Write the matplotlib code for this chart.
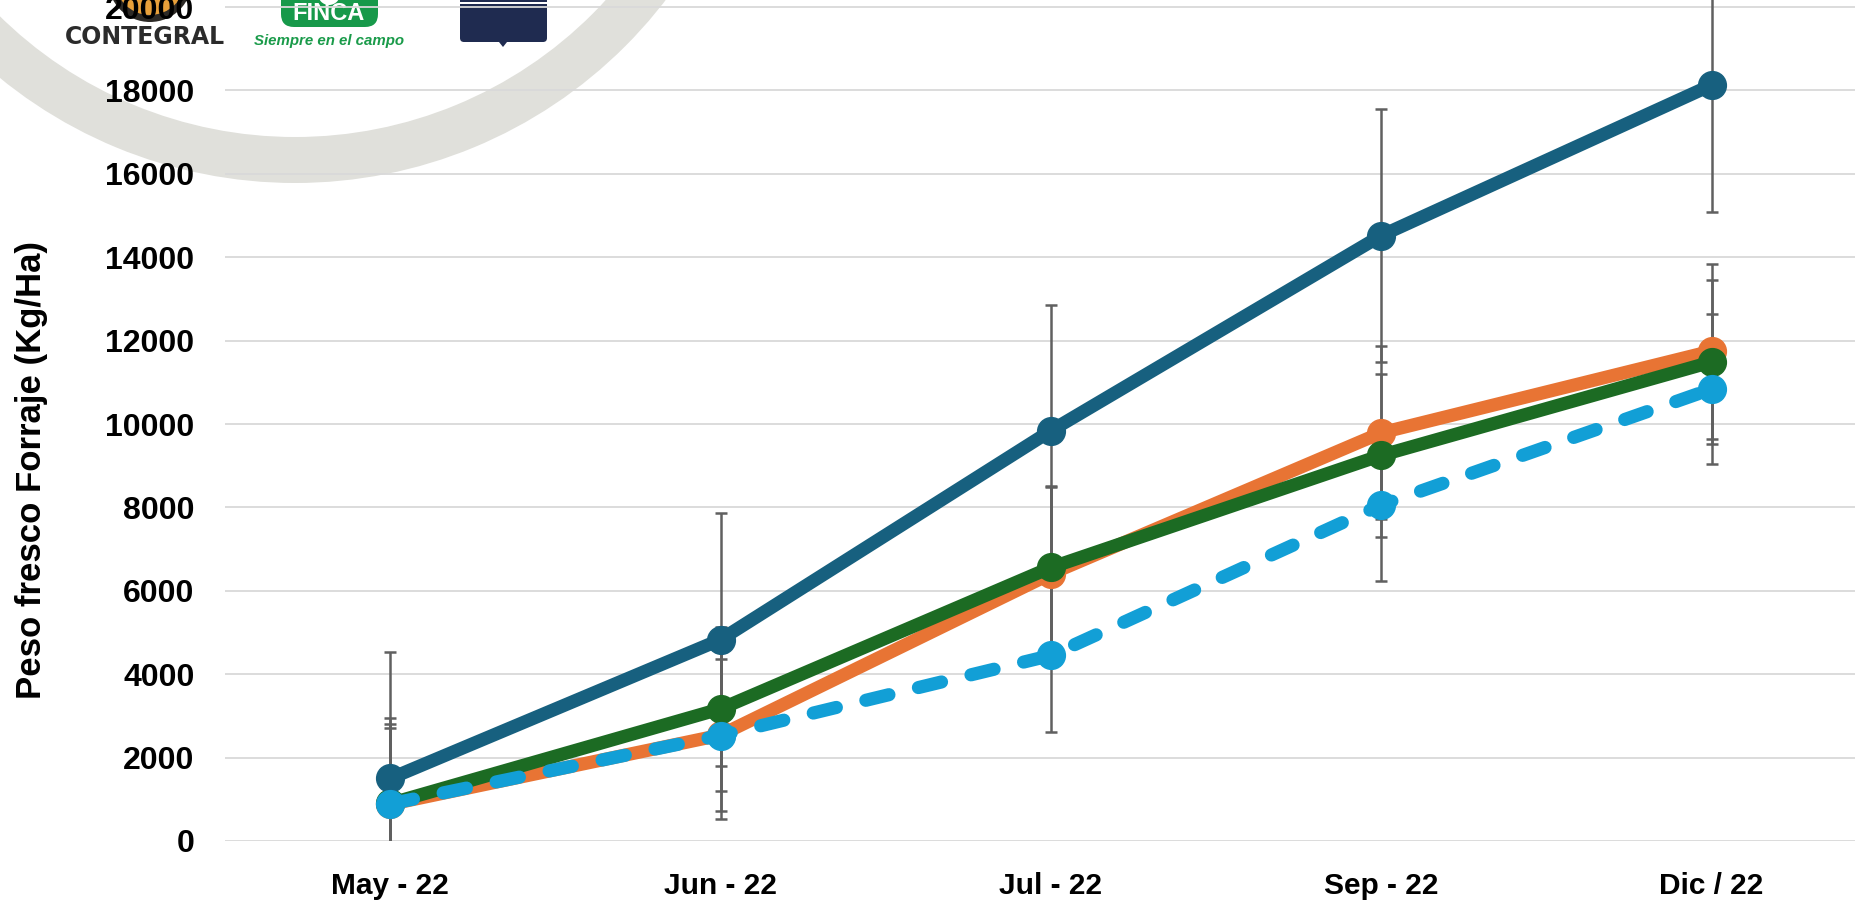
import matplotlib.pyplot as plt
from matplotlib.patches import Circle, FancyBboxPatch, Polygon, Rectangle, Wedge

plt.rcParams["font.family"] = ["Liberation Sans", "DejaVu Sans"]

# data
MONTHS = ["May - 22", "Jun - 22", "Jul - 22", "Sep - 22", "Dic / 22"]

blue_vals = [1500, 4830, 9840, 14520, 18130]
blue_err = [3030, 3040, 3010, 3040, 3040]

orange_vals = [880, 2540, 6410, 9790, 11750]
orange_err = [1920, 1820, 2080, 2070, 2100]

green_vals = [900, 3170, 6560, 9250, 11490]
green_err = [2060, 1960, 1950, 1950, 1960]

light_vals = [890, 2530, 4450, 8060, 10840]
light_err = [1830, 2010, 1840, 1820, 1800]

Y_TICKS = list(range(0, 20001, 2000))

W, H = 1855, 900
fig = plt.figure(figsize=(W / 100, H / 100), dpi=100, facecolor="white")

# background decoration (ring + logos), in pixel coords
bg = fig.add_axes([0, 0, 1, 1], zorder=0)
bg.set_xlim(0, W)
bg.set_ylim(H, 0)
bg.axis("off")
bg.add_patch(Wedge((295, -284), 467, 0, 360, width=46, color="#e0e0db", lw=0))

bg.add_patch(Circle((150, -20), 42, color="#2d2a26", lw=0))
bg.add_patch(Circle((150, -20), 35, color="#e8a03a", lw=0))
bg.text(145, 37, "CONTEGRAL", ha="center", va="center", fontsize=17,
        fontweight="bold", color="#2b2b2b", family="DejaVu Sans")

bg.add_patch(FancyBboxPatch((281, -30), 97, 57, boxstyle="round,pad=0,rounding_size=13",
                            color="#17994a", lw=0))
bg.add_patch(Circle((329, -6), 11, color="white", lw=0))
bg.add_patch(Circle((329, -8), 8, color="#e03a3a", lw=0))
bg.text(329, 14, "FINCA", ha="center", va="center", fontsize=17,
        fontweight="bold", color="white")
bg.text(329, 41, "Siempre en el campo", ha="center", va="center", fontsize=10.8,
        fontweight="bold", style="italic", color="#1a9b4a")

bg.add_patch(FancyBboxPatch((460, -30), 87, 72, boxstyle="round,pad=0,rounding_size=4",
                            color="#1f2b50", lw=0))
bg.add_patch(Rectangle((460, 2), 87, 1.5, color="white", lw=0))
bg.add_patch(Polygon([(499, 42), (507, 42), (503, 47)], color="#1f2b50", lw=0))

# main chart
ax = fig.add_axes([225 / W, 59 / H, 1630 / W, 841 / H], zorder=1)
ax.patch.set_visible(False)
x = list(range(len(MONTHS)))

series = [
    (orange_vals, orange_err, "#e87434", "-"),
    (green_vals, green_err, "#1c6b23", "-"),
    (blue_vals, blue_err, "#17607f", "-"),
    (light_vals, light_err, "#129fd6", (0, (1.8, 2.3))),
]

for vals, err, color, ls in series:
    ax.errorbar(x, vals, yerr=err, fmt="none", ecolor="#606060", elinewidth=1.8,
                capsize=4.3, capthick=1.8, zorder=2)

for vals, err, color, ls in series:
    ax.plot(x, vals, color=color, lw=9.5, ls=ls, marker="o", ms=20,
            dash_capstyle="round", solid_capstyle="round", zorder=3)

ax.set_xlim(-0.5, 4.434)
ax.set_ylim(0, 20170)
ax.set_xticks(x)
ax.set_xticklabels(MONTHS)
ax.set_yticks(Y_TICKS)
ax.set_yticklabels([str(v) for v in Y_TICKS])
ax.grid(axis="y", color="#d9d9d9", lw=1.3)
ax.set_axisbelow(True)
for side in ax.spines.values():
    side.set_visible(False)

ax.tick_params(axis="both", length=0)
ax.tick_params(axis="y", pad=22, labelsize=23)
ax.tick_params(axis="x", pad=22, labelsize=21.5)
for lbl in ax.get_xticklabels() + ax.get_yticklabels():
    lbl.set_fontweight("bold")

ax.set_ylabel("Peso fresco Forraje (Kg/Ha)", fontsize=25, fontweight="bold")
ax.yaxis.set_label_coords(-0.1086, 0.441)

fig.savefig("out.png", dpi=100, facecolor="white")
